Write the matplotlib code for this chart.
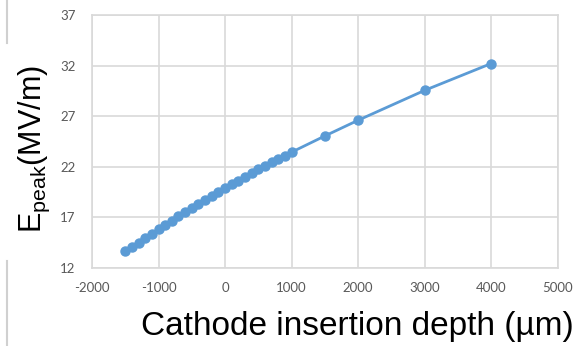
import matplotlib
matplotlib.use("Agg")
import matplotlib.pyplot as plt
from matplotlib.lines import Line2D

plt.rcParams["axes.unicode_minus"] = False

# ─── data ─────────────────────────────────────────────────────────────────────
depth_um = [-1500, -1400, -1300, -1200, -1100, -1000, -900, -800, -700, -600,
            -500, -400, -300, -200, -100, 0, 100, 200, 300, 400,
            500, 600, 700, 800, 900, 1000, 1500, 2000, 3000, 4000]
e_peak = [13.65, 14.1, 14.5, 14.95, 15.4, 15.85, 16.25, 16.7, 17.1, 17.5,
          17.9, 18.3, 18.7, 19.1, 19.5, 19.9, 20.3, 20.65, 21.0, 21.4,
          21.75, 22.1, 22.45, 22.8, 23.1, 23.45, 25.05, 26.6, 29.55, 32.2]
x_ticks = [-2000, -1000, 0, 1000, 2000, 3000, 4000, 5000]
y_ticks = [12, 17, 22, 27, 32, 37]

blue = "#5b9bd5"
grid = "#d9d9d9"
tick_col = "#595959"

fig = plt.figure(figsize=(5.75, 3.46), dpi=100)
ax = fig.add_axes([0.16, 0.225, 0.81, 0.732])

ax.plot(depth_um, e_peak, color=blue, lw=2, marker="o", ms=6.5,
        markeredgecolor=blue, zorder=3)

ax.set_xlim(-2000, 5000)
ax.set_ylim(12, 37)
ax.set_xticks(x_ticks)
ax.set_yticks(y_ticks)
ax.grid(True, color=grid, lw=1.2)
ax.set_axisbelow(True)
for s in ax.spines.values():
    s.set_color(grid)
    s.set_linewidth(1.2)
ax.tick_params(length=0, colors=tick_col, labelsize=9.5)
ax.tick_params(axis="x", pad=10)
ax.tick_params(axis="y", pad=12)
for lab in ax.get_xticklabels() + ax.get_yticklabels():
    lab.set_family("Lato")

ax.set_xlabel("Cathode insertion depth (µm)", family="Liberation Sans",
              fontsize=24, color="black")
ax.xaxis.set_label_coords(0.569, -0.168)
ax.set_ylabel(r"E$_{\mathregular{peak}}$(MV/m)", family="Liberation Sans",
              fontsize=22, color="black")
ax.yaxis.set_label_coords(-0.085, 0.47)

# faint crop marks at the left edge of the original screenshot
fig.add_artist(Line2D([0.012, 0.012], [1.0, 0.875], color="#d0d0d0", lw=1.5))
fig.add_artist(Line2D([0.012, 0.012], [0.245, 0.0], color="#d0d0d0", lw=1.5))

fig.savefig("out.png", dpi=100)
